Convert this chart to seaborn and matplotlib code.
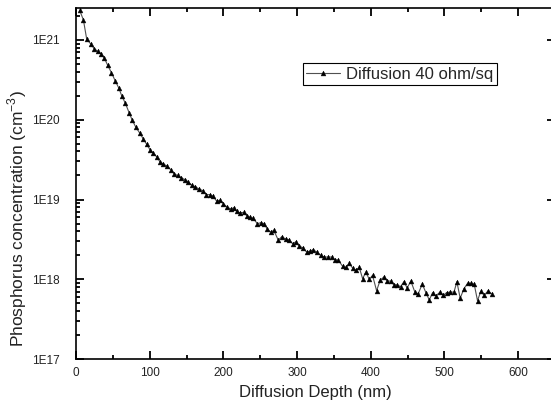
import numpy as np
import pandas as pd
import matplotlib
matplotlib.use("Agg")
import matplotlib.pyplot as plt
import matplotlib.ticker as mticker
import seaborn as sns

# Profundidade (nm) e concentração de fósforo (cm^-3)
depth_nm = [
    5, 10, 14.5, 20, 24.5, 29.5, 34.5, 38.5, 43, 48,
    53, 58, 62, 67, 72, 76, 81, 86.5, 91, 96,
    100.5, 105, 110, 114, 118.5, 124, 129, 133, 138, 143,
    148, 152.5, 157, 162, 167, 172.5, 177, 182, 186, 191,
    195.5, 200, 204.5, 210, 214.5, 218, 222.5, 228, 231.5, 236,
    240.5, 246, 250.5, 255, 259.5, 264, 268.5, 274.5, 279, 285,
    289.5, 294, 298.5, 303, 307.5, 313, 317.5, 322, 326.5, 332,
    336.5, 342, 347, 352, 356, 362, 366.5, 371, 375.5, 380,
    384.5, 389, 393.5, 398, 402.5, 408, 413, 418, 422.5, 427,
    431.5, 436, 440.5, 445, 449.5, 454.5, 460, 464.5, 470, 475,
    479.5, 484, 488.5, 494, 498.5, 503, 507.5, 513, 517, 521.5,
    526.5, 531.5, 536, 540.5, 545, 549.5, 554, 559.5, 564,
]

concentration = [
    2.34e21, 1.78e21, 1.02e21, 8.9e20, 7.8e20, 7.2e20, 6.6e20, 5.9e20, 4.8e20, 3.9e20,
    3.1e20, 2.5e20, 2.0e20, 1.6e20, 1.23e20, 1.0e20, 8.1e19, 6.8e19, 5.8e19, 4.9e19,
    4.2e19, 3.8e19, 3.4e19, 2.95e19, 2.8e19, 2.6e19, 2.35e19, 2.1e19, 2.0e19, 1.86e19,
    1.78e19, 1.66e19, 1.51e19, 1.45e19, 1.35e19, 1.29e19, 1.15e19, 1.15e19, 1.10e19, 9.5e18,
    9.8e18, 8.9e18, 8.1e18, 7.6e18, 7.9e18, 7.1e18, 6.8e18, 6.9e18, 6.3e18, 6.0e18,
    5.8e18, 5.0e18, 5.1e18, 5.0e18, 4.3e18, 3.9e18, 4.1e18, 3.1e18, 3.4e18, 3.2e18,
    3.1e18, 2.8e18, 2.95e18, 2.6e18, 2.5e18, 2.2e18, 2.25e18, 2.35e18, 2.2e18, 2.0e18,
    1.9e18, 1.9e18, 1.9e18, 1.74e18, 1.74e18, 1.45e18, 1.41e18, 1.58e18, 1.38e18, 1.29e18,
    1.41e18, 1.02e18, 1.23e18, 1.0e18, 1.12e18, 7.2e17, 9.8e17, 1.07e18, 9.5e17, 9.5e17,
    8.5e17, 8.5e17, 8.1e17, 9.3e17, 7.8e17, 9.5e17, 6.9e17, 6.6e17, 8.7e17, 6.8e17,
    5.5e17, 6.8e17, 6.2e17, 6.9e17, 6.3e17, 6.8e17, 6.9e17, 6.9e17, 9.3e17, 5.8e17,
    7.6e17, 8.9e17, 8.9e17, 8.7e17, 5.4e17, 7.1e17, 6.3e17, 7.2e17, 6.6e17,
]

series_label = "Diffusion 40 ohm/sq"

sns.set_style("ticks")
plt.rcParams["font.family"] = ["Liberation Sans", "DejaVu Sans"]
plt.rcParams["xtick.minor.visible"] = True
plt.rcParams["ytick.minor.visible"] = True

df = pd.DataFrame({"depth": depth_nm, "conc": concentration})

fig = plt.figure(figsize=(5.51, 4.09), dpi=100)
ax = fig.add_axes([0.138, 0.122, 0.869, 0.858])

sns.lineplot(
    data=df, x="depth", y="conc", ax=ax,
    color="#505050", linewidth=0.8,
    marker="^", markersize=3.5,
    markerfacecolor="black", markeredgecolor="black", markeredgewidth=0.3,
    label=series_label,
)

ax.set_yscale("log")
ax.set_xlim(0, 650)
ax.set_ylim(1e17, 2.5e21)

# ticks menores da escala log: 2..9 em cada década
minor_y = [m * 10.0 ** e for e in range(17, 22) for m in range(2, 10)]

ax.xaxis.set_major_locator(mticker.MultipleLocator(100))
ax.xaxis.set_minor_locator(mticker.MultipleLocator(50))
ax.yaxis.set_major_locator(mticker.FixedLocator([1e17, 1e18, 1e19, 1e20, 1e21]))
ax.yaxis.set_minor_locator(mticker.FixedLocator(minor_y))
ax.yaxis.set_major_formatter(mticker.FuncFormatter(lambda v, _: f"1E{int(round(np.log10(v)))}"))
ax.yaxis.set_minor_formatter(mticker.NullFormatter())

ax.tick_params(which="major", direction="in", top=True, right=True,
               length=5.5, width=1.3, color="black")
ax.tick_params(which="minor", direction="in", top=True, right=True, bottom=True, left=True,
               length=3.2, width=1.3, color="black")
ax.tick_params(axis="x", which="major", labelsize=8.5, pad=6, labelcolor="#222222")
ax.tick_params(axis="y", which="major", labelsize=8.5, pad=12, labelcolor="#222222")

for sp in ax.spines.values():
    sp.set_linewidth(1.2)
    sp.set_color("black")

ax.set_xlabel("Diffusion Depth (nm)", fontsize=12, color="#222222", labelpad=4)
ax.set_ylabel(r"Phosphorus concentration (cm$^{\mathregular{-3}}$)", fontsize=12.5,
              color="#222222")
ax.yaxis.set_label_coords(-0.098, 0.40)

leg = ax.legend(loc="upper left", bbox_to_anchor=(0.474, 0.843), fontsize=12,
                frameon=True, fancybox=False, edgecolor="black", framealpha=1,
                borderpad=0.2, handlelength=2.0, handletextpad=0.4, borderaxespad=0)
leg.get_frame().set_linewidth(0.8)

fig.savefig("out.png", dpi=100)
